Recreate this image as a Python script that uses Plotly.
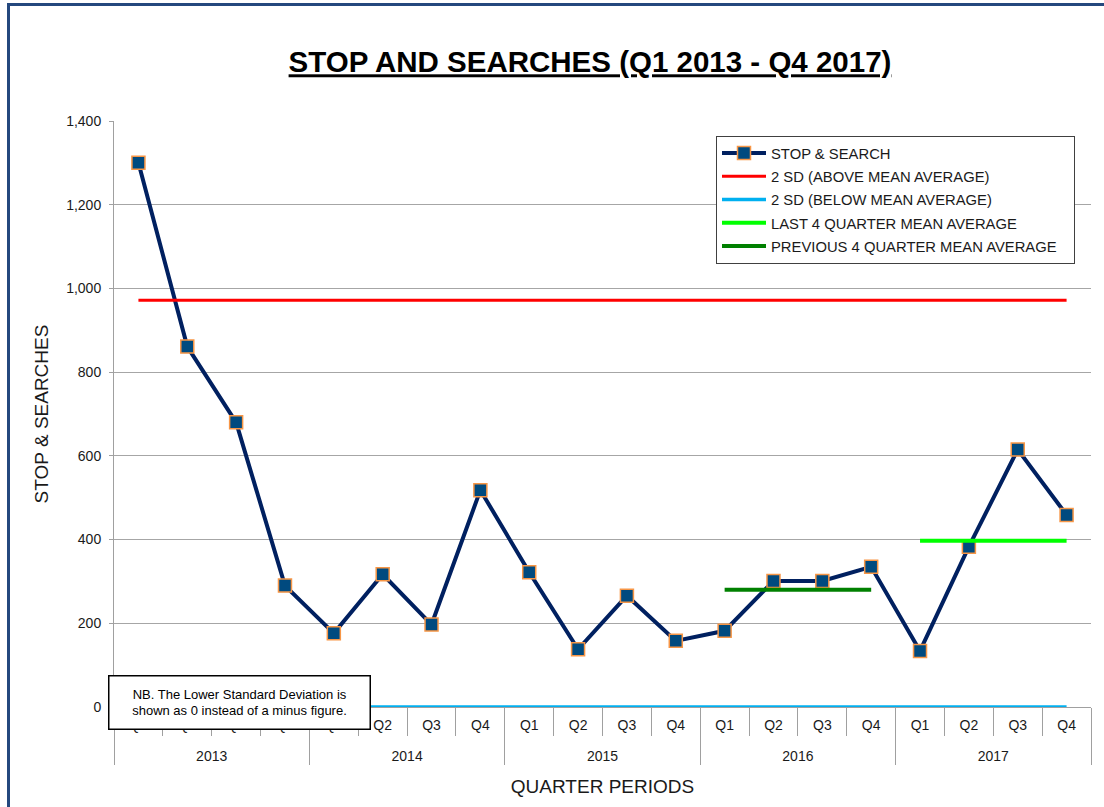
import plotly.graph_objects as go

years = ["2013", "2014", "2015", "2016", "2017"]
quarters = ["Q1", "Q2", "Q3", "Q4"]
stop_search = [1300, 861, 680, 290, 176, 317, 197, 518,
               322, 138, 266, 158, 182, 301, 301, 335,
               134, 383, 615, 459]
upper_sd = 972
lower_sd = 0
last4_mean = 397
prev4_mean = 280
prev4_year = "2016"
last4_year = "2017"

# quarter labels get an empty second line so the year row sits lower (as in the reference)
q_cats = [q + "<br>\u00a0" for q in quarters]
x_year = [y for y in years for q in q_cats]
x_q = [q for y in years for q in q_cats]

fig = go.Figure()

fig.add_trace(go.Scatter(
    x=[x_year, x_q], y=stop_search, name="STOP & SEARCH",
    mode="lines+markers", legendgroup="a",
    line=dict(color="#002060", width=4),
    marker=dict(symbol="square", size=13, color="#004A7F",
                line=dict(color="#F79646", width=1.5)),
))
fig.add_trace(go.Scatter(
    x=[x_year, x_q], y=[upper_sd] * len(x_q), name="2 SD (ABOVE MEAN AVERAGE)",
    mode="lines", legendgroup="b", line=dict(color="#FF0000", width=3),
))
fig.add_trace(go.Scatter(
    x=[x_year, x_q], y=[lower_sd] * len(x_q), name="2 SD (BELOW MEAN AVERAGE)",
    mode="lines", legendgroup="c", line=dict(color="#00B0F0", width=3.5),
    cliponaxis=False,
))
fig.add_trace(go.Scatter(
    x=[[last4_year] * 4, q_cats], y=[last4_mean] * 4,
    name="LAST 4 QUARTER MEAN AVERAGE",
    mode="lines", legendgroup="d", line=dict(color="#00FF00", width=4),
))
fig.add_trace(go.Scatter(
    x=[[prev4_year] * 4, q_cats], y=[prev4_mean] * 4,
    name="PREVIOUS 4 QUARTER MEAN AVERAGE\u00a0\u00a0\u00a0",
    mode="lines", legendgroup="e", line=dict(color="#008000", width=4),
))

axis_font = dict(family="Liberation Sans, Arial, sans-serif", size=14, color="#1a1a1a")

fig.update_layout(
    width=1104, height=807,
    margin=dict(l=114, r=13, t=121, b=100),
    paper_bgcolor="white", plot_bgcolor="white",
    font=dict(family="Liberation Sans, Arial, sans-serif", color="#1a1a1a"),
    title=dict(
        text="<b>STOP AND SEARCHES (Q1 2013 - Q4 2017)</b>",
        font=dict(family="Liberation Sans, Arial, sans-serif", size=29.5, color="#000000",
                  lineposition="under"),
        x=590 / 1104, xanchor="center", xref="container",
        y=1 - 62 / 807, yanchor="middle", yref="container",
    ),
    showlegend=True,
    legend=dict(
        x=(716 - 114) / 977, y=(707 - 136) / 586, xanchor="left", yanchor="top",
        bgcolor="white", bordercolor="#404040", borderwidth=1,
        font=dict(family="Liberation Sans, Arial, sans-serif", size=14.8, color="#1a1a1a"),
        tracegroupgap=1, traceorder="grouped", itemwidth=44,
    ),
    xaxis=dict(
        type="multicategory", range=[-0.5, 19.5],
        showline=True, linecolor="#A0A0A0", linewidth=1,
        ticks="outside", tickson="boundaries", ticklen=28, tickcolor="#A0A0A0",
        ticklabelstandoff=5,
        showdividers=True, dividercolor="#A0A0A0", dividerwidth=1,
        showgrid=False, tickfont=axis_font,
        title=dict(text="QUARTER PERIODS", font=dict(size=19, color="#1a1a1a"), standoff=16),
    ),
    yaxis=dict(
        range=[0, 1400], dtick=200, tickformat=",d",
        showline=True, linecolor="#A0A0A0", linewidth=1,
        ticks="outside", ticklen=4, tickcolor="#A0A0A0",
        ticklabelstandoff=5,
        showgrid=True, gridcolor="#A6A6A6", gridwidth=1,
        zeroline=False, tickfont=axis_font,
        title=dict(text="STOP & SEARCHES", font=dict(size=19, color="#1a1a1a"), standoff=12),
    ),
    annotations=[dict(
        text="NB. The Lower Standard Deviation is<br>shown as 0 instead of a minus figure.",
        xref="paper", yref="paper",
        x=(108 - 114) / 977, y=(707 - 675) / 586, xanchor="left", yanchor="top",
        showarrow=False, align="center",
        width=256, height=48, borderpad=2,
        bgcolor="white", bordercolor="#000000", borderwidth=1.5,
        font=dict(family="Liberation Sans, Arial, sans-serif", size=13, color="#000000"),
    )],
    shapes=[
        dict(type="line", xref="paper", yref="paper",
             x0=(8.5 - 114) / 977, x1=(8.5 - 114) / 977,
             y0=(707 - 3) / 586, y1=(707 - 820) / 586,
             line=dict(color="#24487E", width=3)),
        dict(type="line", xref="paper", yref="paper",
             x0=(7 - 114) / 977, x1=(1120 - 114) / 977,
             y0=(707 - 4.5) / 586, y1=(707 - 4.5) / 586,
             line=dict(color="#24487E", width=3)),
    ],
)

fig.write_html("out.html", config={"displayModeBar": False},
               post_script="document.body.style.margin='0';")
